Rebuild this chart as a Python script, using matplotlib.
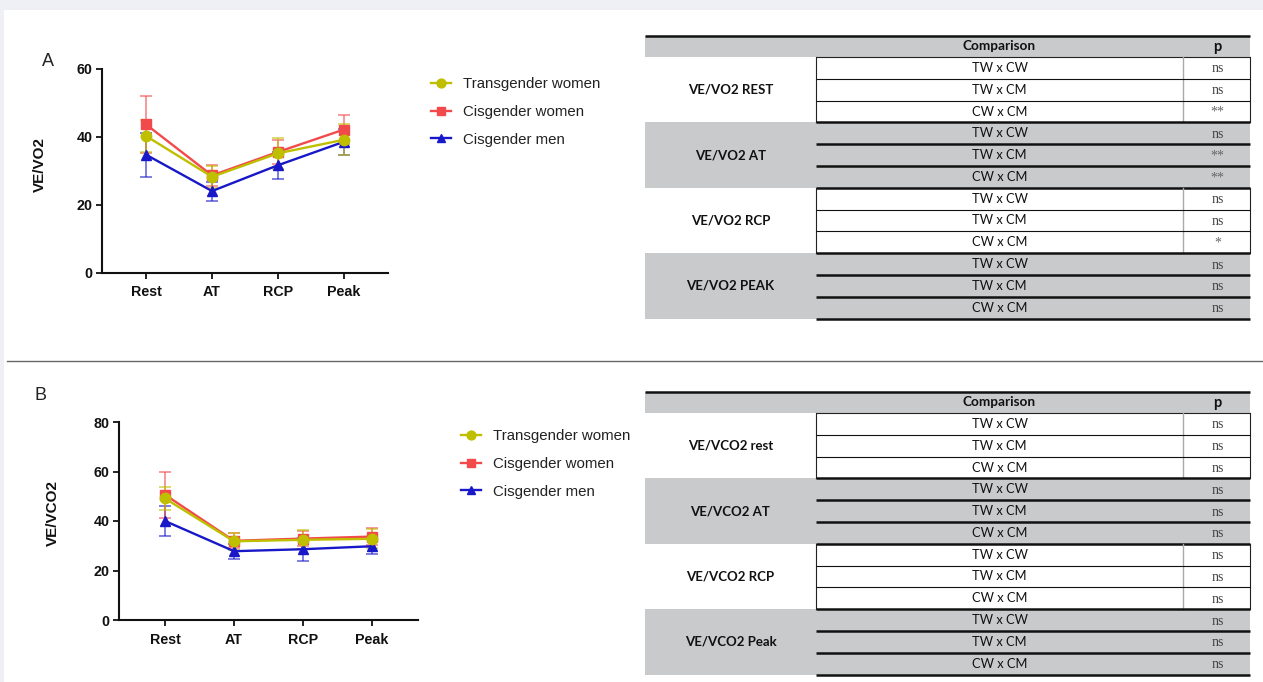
import matplotlib
matplotlib.use("Agg")
import matplotlib.pyplot as plt
from matplotlib.patches import Rectangle

W, H = 1263, 682

# ---------------- data ----------------
categories = ["Rest", "AT", "RCP", "Peak"]
series_names = ["Transgender women", "Cisgender women", "Cisgender men"]

vo2_tw = [40.3, 28.3, 35.2, 39.2]
vo2_tw_sd = [4.7, 3.2, 4.5, 4.5]
vo2_cw = [43.7, 28.7, 35.6, 42.2]
vo2_cw_sd = [8.3, 3.0, 3.5, 4.2]
vo2_cm = [34.8, 24.1, 31.7, 38.6]
vo2_cm_sd = [6.5, 2.8, 4.0, 3.8]

vco2_tw = [49.1, 31.8, 32.4, 32.8]
vco2_tw_sd = [4.7, 3.5, 3.8, 3.8]
vco2_cw = [50.6, 32.0, 32.9, 33.7]
vco2_cw_sd = [9.3, 3.0, 3.0, 3.3]
vco2_cm = [40.0, 27.8, 28.6, 29.8]
vco2_cm_sd = [6.1, 3.1, 4.6, 3.3]

comparisons = ["TW x CW", "TW x CM", "CW x CM"]
vo2_groups = ["VE/VO2 REST", "VE/VO2 AT", "VE/VO2 RCP", "VE/VO2 PEAK"]
vo2_p = [["ns", "ns", "**"], ["ns", "**", "**"], ["ns", "ns", "*"], ["ns", "ns", "ns"]]
vco2_groups = ["VE/VCO2 rest", "VE/VCO2 AT", "VE/VCO2 RCP", "VE/VCO2 Peak"]
vco2_p = [["ns", "ns", "ns"], ["ns", "ns", "ns"], ["ns", "ns", "ns"], ["ns", "ns", "ns"]]

# ---------------- style ----------------
C_TW = "#bfbf00"
C_CW = "#f24a4a"
C_CM = "#1818c8"
GRAY = "#c9cacc"
SANS = "Liberation Sans"
TFONT = "Lato"

fig = plt.figure(figsize=(W / 100, H / 100), dpi=100, facecolor="#eff0f6")

# overlay axes in pixel coordinates
ov = fig.add_axes([0, 0, 1, 1], zorder=0)
ov.set_xlim(0, W)
ov.set_ylim(H, 0)
ov.axis("off")
ov.add_patch(Rectangle((4, 10), W - 4, H - 10, fc="white", ec="none"))
ov.plot([7, W], [361, 361], color="#666666", lw=1.0)


def px_axes(left, top, right, bottom):
    return fig.add_axes([left / W, (H - bottom) / H, (right - left) / W, (bottom - top) / H], zorder=2)


def draw_chart(ax, tw, tws, cw, cws, cm, cms, ymax, ystep):
    x = list(range(len(categories)))
    specs = [(cm, cms, C_CM, "^", 7.0), (cw, cws, C_CW, "s", 7.0), (tw, tws, C_TW, "o", 7.5)]
    handles = {}
    for vals, sds, col, mk, ms in specs:
        ax.errorbar(x, vals, yerr=sds, fmt="none", ecolor=col, elinewidth=1.2,
                    capsize=4, capthick=1.2, alpha=0.65, zorder=3)
        ln, = ax.plot(x, vals, color=col, lw=1.7, marker=mk, ms=ms, zorder=4)
        handles[col] = ln
    ax.set_xlim(-0.667, 3.667)
    ax.set_ylim(0, ymax)
    ax.set_yticks(range(0, ymax + 1, ystep))
    ax.set_xticks(x)
    ax.set_xticklabels(categories)
    ax.spines["top"].set_visible(False)
    ax.spines["right"].set_visible(False)
    for s in ("left", "bottom"):
        ax.spines[s].set_linewidth(1.5)
        ax.spines[s].set_color("#111111")
    ax.tick_params(axis="both", length=4, width=1.3, color="#111111")
    ax.tick_params(axis="y", pad=3)
    ax.tick_params(axis="x", pad=5)
    for lab in ax.get_xticklabels() + ax.get_yticklabels():
        lab.set_fontfamily(SANS)
        lab.set_fontweight("bold")
        lab.set_fontsize(10.3)
        lab.set_color("#111111")
    ax.set_facecolor("none")
    return [handles[C_TW], handles[C_CW], handles[C_CM]]


axA = px_axes(102, 69, 388, 273)
hA = draw_chart(axA, vo2_tw, vo2_tw_sd, vo2_cw, vo2_cw_sd, vo2_cm, vo2_cm_sd, 60, 20)
axB = px_axes(119, 422, 418, 620)
hB = draw_chart(axB, vco2_tw, vco2_tw_sd, vco2_cw, vco2_cw_sd, vco2_cm, vco2_cm_sd, 80, 20)

# y labels
ov.text(40, 165, "VE/VO2", rotation=90, ha="center", va="center", fontfamily=SANS,
        fontweight="bold", fontsize=11, color="#111111")
ov.text(53, 513, "VE/VCO2", rotation=90, ha="center", va="center", fontfamily=SANS,
        fontweight="bold", fontsize=11, color="#111111")
# panel letters
ov.text(48, 62, "A", ha="center", va="center", fontfamily=SANS, fontsize=13, color="#222222")
ov.text(40, 395, "B", ha="center", va="center", fontfamily=SANS, fontsize=13, color="#222222")

# legends
for handles, (lx, ly) in ((hA, (431, 77)), (hB, (461, 429))):
    leg = fig.legend(handles, series_names, loc="upper left",
                     bbox_to_anchor=(lx / W, (H - ly) / H), frameon=False,
                     prop={"family": SANS, "size": 10.8}, handlelength=1.35,
                     handletextpad=0.8, labelspacing=0.92, borderpad=0, borderaxespad=0,
                     markerscale=0.85)
    for t in leg.get_texts():
        t.set_color("#222222")


def draw_table(top, groups, pvals):
    x0, x1, x2, x3 = 645, 816, 1183, 1250
    hh = 21.0
    rh = 21.8
    ov.add_patch(Rectangle((x0, top), x3 - x0, hh, fc=GRAY, ec="none"))
    ov.plot([x0, x3], [top, top], color="#111111", lw=1.8, solid_capstyle="butt")
    ov.text((x1 + x2) / 2, top + hh / 2, "Comparison", ha="center", va="center",
            fontfamily=TFONT, fontweight="bold", fontsize=9.8, color="#111111")
    ov.text((x2 + x3) / 2 + 1, top + hh / 2 + 1, "p", ha="center", va="center",
            fontfamily=TFONT, fontweight="bold", fontsize=10.5, color="#111111")
    y = top + hh
    ov.plot([x1, x3], [y, y], color="#222222", lw=0.8, solid_capstyle="butt")
    for g, name in enumerate(groups):
        gray = g % 2 == 1
        fc = GRAY if gray else "white"
        ov.add_patch(Rectangle((x0, y), x3 - x0, 3 * rh, fc=fc, ec="none"))
        ov.text((x0 + x1) / 2, y + 1.5 * rh, name, ha="center", va="center",
                fontfamily=TFONT, fontweight="bold", fontsize=9.5, color="#111111")
        if not gray:
            ov.plot([x1, x1], [y, y + 3 * rh], color="#222222", lw=0.8)
            ov.plot([x2, x2], [y, y + 3 * rh], color="#aaaaaa", lw=1.0)
            ov.plot([x3, x3], [y, y + 3 * rh], color="#222222", lw=0.8)
        for r in range(3):
            yr = y + r * rh
            ov.text((x1 + x2) / 2, yr + rh / 2, comparisons[r], ha="center", va="center",
                    fontfamily=TFONT, fontsize=9.3, color="#111111")
            pv = pvals[g][r]
            col = "#444444" if pv == "ns" else "#666666"
            ov.text((x2 + x3) / 2 + 1, yr + rh / 2 + 1, pv, ha="center", va="center",
                    fontfamily="Liberation Serif", fontsize=10, color=col)
            yb = yr + rh
            lw = 1.8 if (gray or r == 2) else 0.8
            ov.plot([x1, x3], [yb, yb], color="#111111", lw=lw, solid_capstyle="butt")
        y += 3 * rh


draw_table(36, vo2_groups, vo2_p)
draw_table(392, vco2_groups, vco2_p)

fig.savefig("out.png", dpi=100, facecolor=fig.get_facecolor())
